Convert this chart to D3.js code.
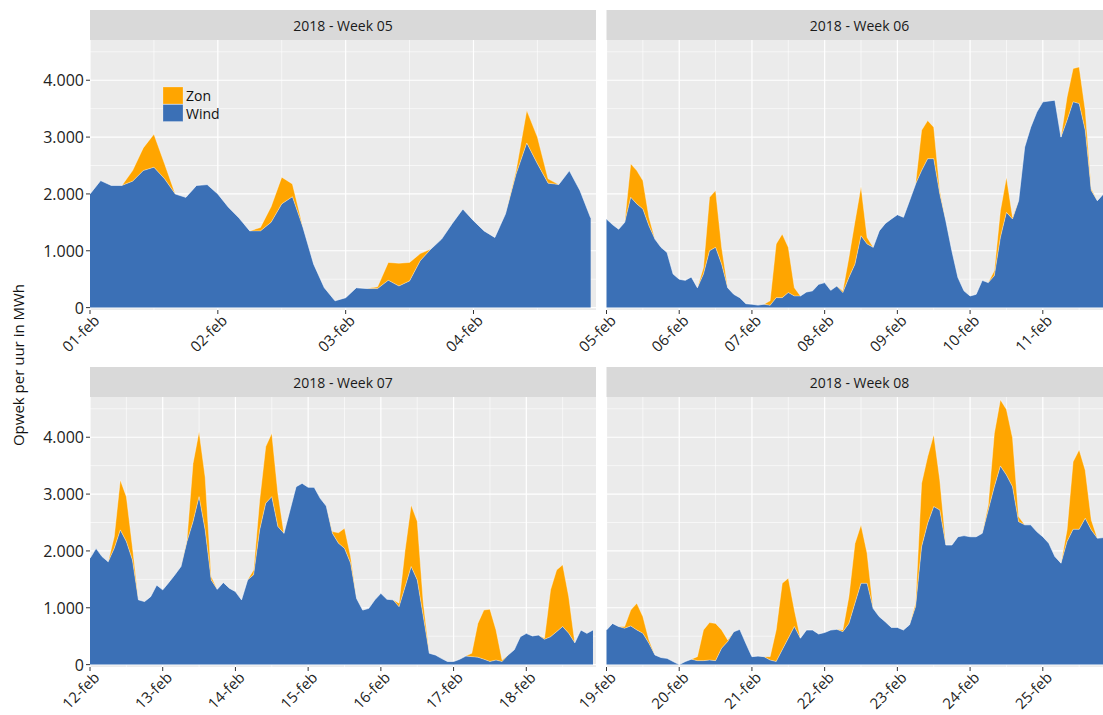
<!DOCTYPE html>
<html>
<head>
<meta charset="utf-8">
<script src="https://cdn.jsdelivr.net/npm/d3@7"></script>
<style>
body { margin: 0; background: #fff; }
text { font-family: "Open Sans", sans-serif; }
</style>
</head>
<body>
<div id="chart"></div>
<script>
// facets: label, first day and number of hours in the data
const weekLabels = ["2018 - Week 05", "2018 - Week 06", "2018 - Week 07", "2018 - Week 08"];
const weekStarts = ["2018-02-01", "2018-02-05", "2018-02-12", "2018-02-19"];
const weekHours = [96, 168, 168, 168];
const seriesKeys = ["Wind", "Zon"];
const yTicks = [0, 1000, 2000, 3000, 4000];

// opwek in MWh, one value every 2 hours (one row = one day)
const wind05 = [
	2000, 2235, 2150, 2150, 2225, 2410, 2470, 2265, 2000, 1940, 2150, 2165,
	2000, 1765, 1575, 1350, 1350, 1500, 1825, 1950, 1410, 765, 350, 120,
	175, 350, 335, 335, 480, 380, 470, 825, 1030, 1205, 1480, 1735,
	1530, 1350, 1235, 1650, 2350, 2895, 2530, 2190, 2165, 2410, 2060, 1580];
const zon05 = [
	0, 0, 0, 0, 185, 400, 580, 265, 0, 0, 0, 0,
	0, 0, 0, 0, 60, 275, 470, 225, 0, 0, 0, 0,
	0, 0, 0, 30, 315, 400, 325, 125, 0, 0, 0, 0,
	0, 0, 0, 0, 60, 575, 470, 75, 0, 0, 0, 0];

const wind06 = [
	1560, 1460, 1380, 1500, 1940, 1825, 1735, 1440, 1205, 1060, 970, 590,
	500, 480, 540, 350, 590, 1000, 1060, 765, 350, 235, 175, 70,
	60, 45, 60, 40, 175, 175, 265, 205, 205, 275, 295, 410,
	440, 305, 380, 265, 530, 765, 1265, 1120, 1060, 1350, 1480, 1560,
	1635, 1590, 1880, 2175, 2410, 2620, 2620, 2000, 1530, 1000, 530, 295,
	205, 235, 480, 440, 560, 1235, 1675, 1560, 1880, 2825, 3175, 3440,
	3620, 3635, 3650, 3000, 3295, 3620, 3590, 3120, 2060, 1880, 2000, 1960];
const zon06 = [
	0, 0, 0, 0, 590, 585, 500, 150, 0, 0, 0, 0,
	0, 0, 0, 0, 115, 940, 1000, 295, 0, 0, 0, 0,
	0, 0, 0, 80, 945, 1120, 795, 145, 0, 0, 0, 0,
	0, 0, 0, 30, 350, 750, 865, 115, 0, 0, 0, 0,
	0, 0, 0, 0, 710, 670, 555, 60, 0, 0, 0, 0,
	0, 0, 0, 0, 90, 470, 620, 30, 0, 0, 0, 0,
	0, 0, 0, 0, 410, 585, 645, 350, 30, 0, 0, 0];

const wind07 = [
	1870, 2045, 1900, 1810, 2045, 2370, 2165, 1840, 1140, 1110, 1195, 1400,
	1315, 1445, 1580, 1725, 2165, 2515, 2955, 2370, 1490, 1325, 1445, 1345,
	1285, 1140, 1490, 1580, 2370, 2840, 2955, 2430, 2310, 2720, 3130, 3190,
	3120, 3120, 2925, 2790, 2310, 2135, 2045, 1785, 1165, 960, 990, 1140,
	1255, 1150, 1140, 1020, 1370, 1725, 1490, 845, 200, 170, 110, 55,
	55, 95, 150, 140, 130, 95, 55, 80, 55, 170, 260, 490,
	550, 505, 520, 445, 490, 580, 670, 550, 385, 610, 550, 610];
const zon07 = [
	0, 0, 0, 0, 205, 880, 790, 235, 0, 0, 0, 0,
	0, 0, 0, 0, 30, 1025, 1145, 930, 60, 0, 0, 0,
	0, 0, 0, 85, 525, 995, 1115, 585, 0, 0, 0, 0,
	0, 0, 0, 0, 30, 185, 355, 115, 0, 0, 0, 0,
	0, 0, 0, 60, 650, 1085, 1030, 235, 0, 0, 0, 0,
	0, 0, 0, 60, 595, 865, 920, 530, 25, 0, 0, 0,
	0, 0, 0, 20, 825, 1085, 1085, 645, 0, 0, 0, 0];

const wind08 = [
	610, 725, 670, 640, 680, 610, 550, 375, 170, 125, 110, 55,
	0, 55, 95, 70, 70, 80, 70, 290, 405, 580, 620, 375,
	140, 150, 140, 80, 55, 260, 465, 670, 465, 610, 610, 540,
	565, 610, 620, 580, 725, 1080, 1430, 1430, 990, 845, 755, 655,
	655, 610, 700, 1020, 2075, 2485, 2780, 2720, 2105, 2105, 2250, 2270,
	2250, 2250, 2310, 2720, 3130, 3495, 3335, 3130, 2515, 2460, 2460, 2340,
	2250, 2135, 1900, 1785, 2165, 2380, 2380, 2575, 2370, 2225, 2235, 2250];
const zon08 = [
	0, 0, 0, 30, 280, 470, 295, 60, 0, 0, 0, 0,
	0, 0, 0, 70, 540, 660, 655, 320, 30, 0, 0, 0,
	0, 0, 0, 60, 555, 1170, 1055, 290, 0, 0, 0, 0,
	0, 0, 0, 30, 470, 1050, 1030, 530, 0, 0, 0, 0,
	0, 0, 0, 60, 1115, 1175, 1265, 530, 0, 0, 0, 0,
	0, 0, 0, 90, 940, 1165, 1155, 860, 90, 0, 0, 0,
	0, 0, 0, 0, 205, 1190, 1400, 845, 175, 0, 0, 0];

const windByWeek = [wind05, wind06, wind07, wind08];
const zonByWeek = [zon05, zon06, zon07, zon08];

const STEP = 2; // hours between two values
const HOUR = 3600 * 1000;
const COLORS = { Wind: "#3b70b6", Zon: "#ffa500" };

// layout of the 2x2 facets
const W = 1103, H = 715;
const panelW = 506, panelH = 270, stripH = 30;
const colX = [90, 606.5];
const rowY = [40, 397];

// 4.000 instead of 4,000
const nl = d3.formatLocale({ decimal: ",", thousands: ".", grouping: [3], currency: ["€", ""] });
const fmtY = nl.format(",");
const fmtDay = d => d3.utcFormat("%d")(d) + "-feb";

const svg = d3.select('#chart')
	.append('svg')
	.attr('width', W)
	.attr('height', H)
	.style('display', 'block');

weekLabels.forEach((label, i) => {
	const col = i % 2, row = Math.floor(i / 2);
	const x0 = colX[col], top = rowY[row], bottom = top + panelH;

	const start = d3.utcParse("%Y-%m-%d")(weekStarts[i]);
	const end = new Date(+start + (weekHours[i] - 1) * HOUR);
	const x = d3.scaleUtc().domain([start, end]).range([x0, x0 + panelW]);
	const y = d3.scaleLinear().domain([-42, 4708]).range([bottom, top]);

	const wind = windByWeek[i], zon = zonByWeek[i];
	const table = d3.range(wind.length).map(k => ({
		t: new Date(+start + Math.min(k * STEP, weekHours[i] - 1) * HOUR),
		Wind: wind[k],
		Zon: zon[k]
	}));
	const layers = d3.stack().keys(seriesKeys)(table);

	const g = svg.append('g');

	// strip
	g.append('rect')
		.attr('x', x0).attr('y', top - stripH)
		.attr('width', panelW).attr('height', stripH)
		.attr('fill', '#d9d9d9');
	g.append('text')
		.attr('x', x0 + panelW / 2).attr('y', top - stripH / 2)
		.attr('text-anchor', 'middle')
		.attr('dominant-baseline', 'central')
		.attr('font-size', 14)
		.attr('fill', '#1a1a1a')
		.text(label);

	// panel background
	g.append('rect')
		.attr('x', x0).attr('y', top)
		.attr('width', panelW).attr('height', panelH)
		.attr('fill', '#ebebeb');

	const days = d3.utcDay.range(start, new Date(+end + 1));
	const noons = days.map(d => new Date(+d + 12 * HOUR)).filter(d => d <= end);

	// minor grid
	g.append('g').selectAll('line')
		.data(d3.range(500, 4708, 1000))
		.join('line')
		.attr('x1', x0).attr('x2', x0 + panelW)
		.attr('y1', d => y(d)).attr('y2', d => y(d))
		.attr('stroke', '#fff').attr('stroke-width', 0.6);
	g.append('g').selectAll('line')
		.data(noons)
		.join('line')
		.attr('x1', d => x(d)).attr('x2', d => x(d))
		.attr('y1', top).attr('y2', bottom)
		.attr('stroke', '#fff').attr('stroke-width', 0.6);

	// major grid
	g.append('g').selectAll('line')
		.data(yTicks)
		.join('line')
		.attr('x1', x0).attr('x2', x0 + panelW)
		.attr('y1', d => y(d)).attr('y2', d => y(d))
		.attr('stroke', '#fff').attr('stroke-width', 1.2);
	g.append('g').selectAll('line')
		.data(days)
		.join('line')
		.attr('x1', d => x(d)).attr('x2', d => x(d))
		.attr('y1', top).attr('y2', bottom)
		.attr('stroke', '#fff').attr('stroke-width', 1.2);

	// stacked areas
	const area = d3.area()
		.x(d => x(d.data.t))
		.y0(d => y(d[0]))
		.y1(d => y(d[1]));
	const topLine = d3.line()
		.x(d => x(d.data.t))
		.y(d => y(d[1]));

	g.append('g').selectAll('path')
		.data(layers)
		.join('path')
		.attr('d', area)
		.attr('fill', d => COLORS[d.key]);
	g.append('g').selectAll('path')
		.data(layers)
		.join('path')
		.attr('d', topLine)
		.attr('fill', 'none')
		.attr('stroke', '#fff')
		.attr('stroke-opacity', 0.55)
		.attr('stroke-width', 0.7);

	// x axis
	g.append('g').selectAll('line')
		.data(days)
		.join('line')
		.attr('x1', d => x(d)).attr('x2', d => x(d))
		.attr('y1', bottom).attr('y2', bottom + 4)
		.attr('stroke', '#333');
	g.append('g').selectAll('text')
		.data(days)
		.join('text')
		.attr('transform', d => `translate(${x(d) + 3},${bottom + 4}) rotate(-45)`)
		.attr('text-anchor', 'end')
		.attr('dy', '0.7em')
		.attr('font-size', 15)
		.attr('fill', '#222')
		.text(fmtDay);

	// y axis on the left column only
	if (col === 0) {
		g.append('g').selectAll('line')
			.data(yTicks)
			.join('line')
			.attr('x1', x0 - 4).attr('x2', x0)
			.attr('y1', d => y(d)).attr('y2', d => y(d))
			.attr('stroke', '#333');
		g.append('g').selectAll('text')
			.data(yTicks)
			.join('text')
			.attr('x', x0 - 6)
			.attr('y', d => y(d))
			.attr('text-anchor', 'end')
			.attr('dominant-baseline', 'central')
			.attr('font-size', 16)
			.attr('fill', '#222')
			.text(fmtY);
	}

	// legend inside the first facet
	if (i === 0) {
		const legend = svg.append('g')
			.attr('transform', 'translate(163,87)');
		const items = seriesKeys.slice().reverse();
		legend.selectAll('rect')
			.data(items)
			.join('rect')
			.attr('x', 0).attr('y', (d, k) => k * 17.5)
			.attr('width', 20).attr('height', 17)
			.attr('fill', d => COLORS[d])
			.attr('stroke', '#fff').attr('stroke-opacity', 0.4).attr('stroke-width', 0.6);
		legend.selectAll('text')
			.data(items)
			.join('text')
			.attr('x', 23).attr('y', (d, k) => k * 17.5 + 8.5)
			.attr('dominant-baseline', 'central')
			.attr('font-size', 14)
			.attr('fill', '#111')
			.text(d => d);
	}
});

// y title
svg.append('text')
	.attr('transform', 'translate(18,365) rotate(-90)')
	.attr('text-anchor', 'middle')
	.attr('dominant-baseline', 'central')
	.attr('font-size', 15)
	.attr('fill', '#111')
	.text('Opwek per uur in MWh');
</script>
</body>
</html>
